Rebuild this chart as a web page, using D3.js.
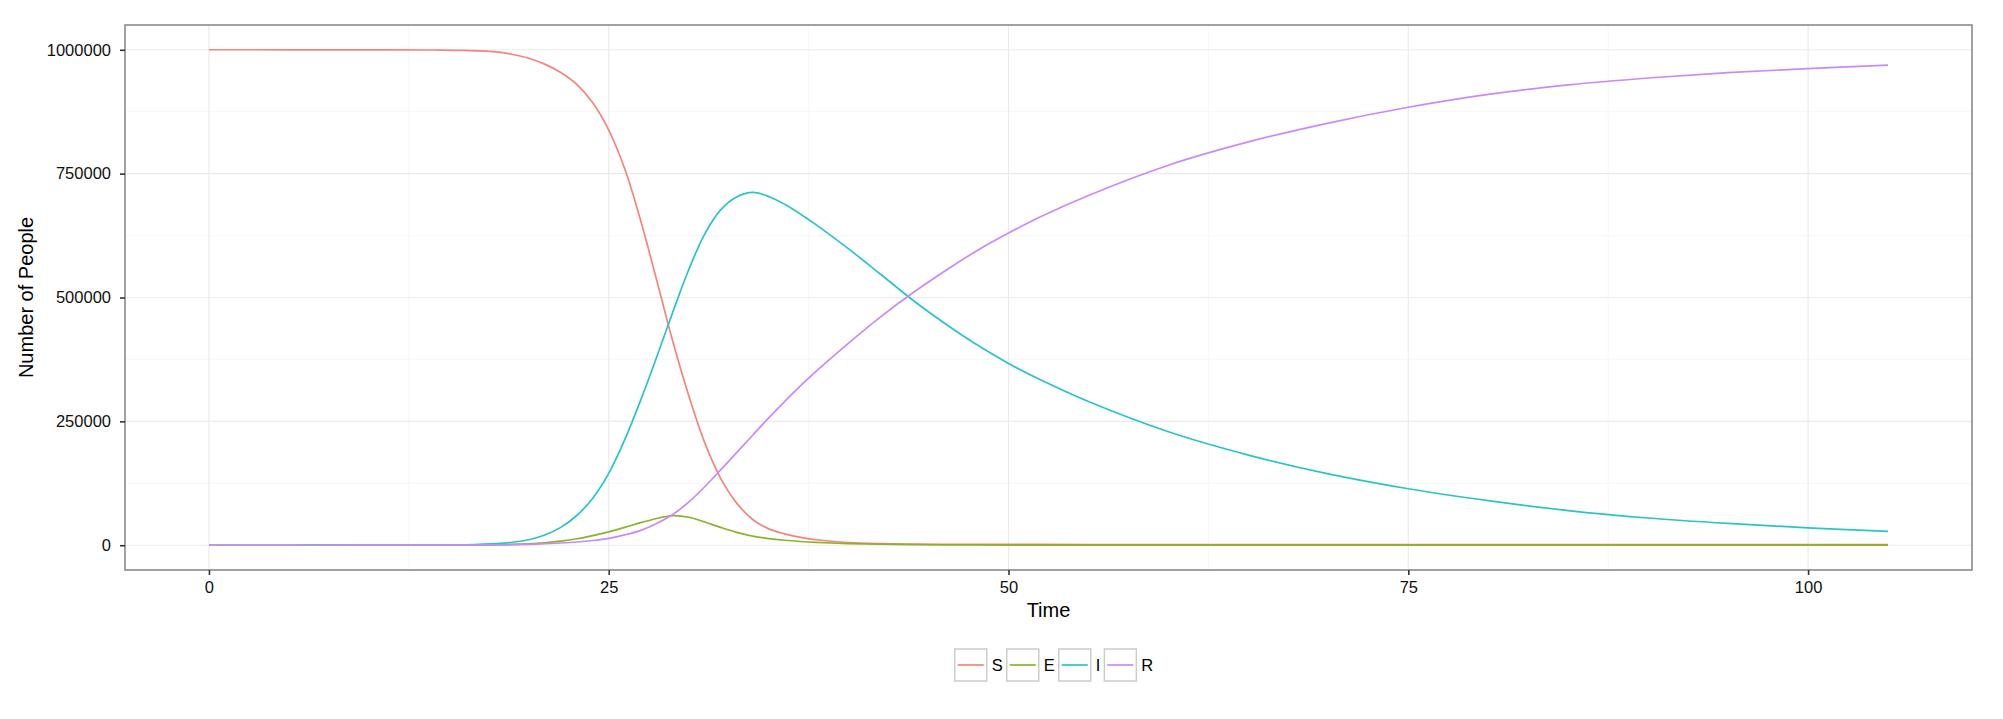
<!DOCTYPE html>
<html>
<head>
<meta charset="utf-8">
<script src="https://cdn.jsdelivr.net/npm/d3@7"></script>
<style>
  body { margin: 0; background: #fff; }
  text { font-family: "Liberation Sans", Arial, Helvetica, sans-serif; }
</style>
</head>
<body>
<div id="chart"></div>
<script>
// SEIR model output
let times = [0, 5, 10, 14, 16, 18, 19, 20, 21, 22, 23, 24, 25, 26, 27, 28, 29, 30, 31, 32, 33, 34, 35, 36, 37, 38,
    40, 42, 44, 46, 48, 50, 52, 55, 60, 65, 70, 75, 80, 85, 90, 95, 100, 105];

let sVals = [1000000, 999990, 999900, 999500, 998700, 995800, 990500, 983000, 971000, 954000, 930000, 893000, 838000,
    760000, 655000, 535000, 412000, 302000, 207000, 135000, 85000, 52000, 33000, 23000, 16000, 11000,
    5500, 3300, 2400, 1900, 1700, 1600, 1550, 1500, 1400, 1400, 1350, 1350, 1300, 1300, 1300, 1300, 1300, 1300];

let eVals = [0, 3, 25, 120, 300, 900, 1600, 2900, 5000, 8300, 13000, 19500, 27000,
    36000, 45500, 54000, 59800, 56500, 47000, 36000, 26000, 18500, 13500, 10000, 7500, 5700,
    3300, 2000, 1200, 800, 550, 380, 300, 200, 120, 80, 60, 50, 40, 30, 25, 20, 15, 12];

let iVals = [1, 5, 60, 300, 900, 3200, 6000, 11000, 20500, 36000, 60000, 95000, 145000,
    213000, 293000, 380000, 470000, 556000, 628000, 677000, 703000, 712000, 704000, 688000, 668000, 646000,
    598000, 547000, 495000, 448000, 405000, 367000, 334000, 290000, 229000, 182000, 144000, 114000, 90000, 70000, 55000, 44000, 35000, 28000];

let rVals = [0, 2, 15, 80, 200, 600, 1100, 1800, 3000, 4500, 6500, 9500, 14000,
    21000, 30000, 44000, 62000, 87000, 118000, 152000, 187000, 222000, 257000, 290000, 322000, 352000,
    408000, 461000, 509000, 553000, 594000, 630000, 663000, 706000, 767000, 814000, 852000, 884000, 910000, 929000, 943000, 954000, 962000, 969000];

let seriesNames = ["S", "E", "I", "R"];
let seriesColors = ["#F3857C", "#8AB22A", "#2AC4C7", "#C98AF8"];
let xTicks = [0, 25, 50, 75, 100];
let xMinor = [12.5, 37.5, 62.5, 87.5];
let yTicks = [0, 250000, 500000, 750000, 1000000];
let yMinor = [125000, 375000, 625000, 875000];

let width = 2003, height = 719;
let panel = {left: 125, right: 1972, top: 25, bottom: 570};

let svg = d3.select("#chart").append("svg")
    .attr("width", width)
    .attr("height", height);

svg.append("rect").attr("width", width).attr("height", height).attr("fill", "#fff");

// ggplot style 5% expansion on both axes
let x = d3.scaleLinear().domain([-5.25, 110.25]).range([panel.left, panel.right]);
let y = d3.scaleLinear().domain([-50000, 1050000]).range([panel.bottom, panel.top]);

let grid = svg.append("g");
grid.selectAll(".xminor").data(xMinor).enter().append("line")
    .attr("x1", d => x(d)).attr("x2", d => x(d))
    .attr("y1", panel.top).attr("y2", panel.bottom)
    .attr("stroke", "#f8f8f8").attr("stroke-width", 1.2);
grid.selectAll(".yminor").data(yMinor).enter().append("line")
    .attr("x1", panel.left).attr("x2", panel.right)
    .attr("y1", d => y(d)).attr("y2", d => y(d))
    .attr("stroke", "#f8f8f8").attr("stroke-width", 1.2);
grid.selectAll(".xmajor").data(xTicks).enter().append("line")
    .attr("x1", d => x(d)).attr("x2", d => x(d))
    .attr("y1", panel.top).attr("y2", panel.bottom)
    .attr("stroke", "#ebebeb").attr("stroke-width", 1.2);
grid.selectAll(".ymajor").data(yTicks).enter().append("line")
    .attr("x1", panel.left).attr("x2", panel.right)
    .attr("y1", d => y(d)).attr("y2", d => y(d))
    .attr("stroke", "#ebebeb").attr("stroke-width", 1.2);

// the lines
let allSeries = [sVals, eVals, iVals, rVals];
let line = d3.line()
    .x((d, i) => x(times[i]))
    .y(d => y(d))
    .curve(d3.curveCatmullRom.alpha(0.5));

svg.append("g").selectAll("path").data(allSeries).enter().append("path")
    .attr("d", d => line(d))
    .attr("fill", "none")
    .attr("stroke", (d, i) => seriesColors[i])
    .attr("stroke-width", 1.7);

// panel border
svg.append("rect")
    .attr("x", panel.left).attr("y", panel.top)
    .attr("width", panel.right - panel.left)
    .attr("height", panel.bottom - panel.top)
    .attr("fill", "none")
    .attr("stroke", "#8a8a8a")
    .attr("stroke-width", 1.6);

// axes
let xAxis = svg.append("g")
    .attr("transform", "translate(0," + panel.bottom + ")")
    .call(d3.axisBottom(x).tickValues(xTicks).tickSize(5).tickPadding(6).tickFormat(d3.format("d")));
let yAxis = svg.append("g")
    .attr("transform", "translate(" + panel.left + ",0)")
    .call(d3.axisLeft(y).tickValues(yTicks).tickSize(5).tickPadding(9).tickFormat(d3.format("d")));

[xAxis, yAxis].forEach(function (ax) {
    ax.select(".domain").remove();
    ax.selectAll(".tick line").attr("stroke", "#333").attr("stroke-width", 1.6);
    ax.selectAll(".tick text")
        .attr("fill", "#111")
        .style("font-size", "16.5px")
        .style("font-family", "'Liberation Sans', Arial, sans-serif");
});

// axis titles
svg.append("text")
    .attr("x", (panel.left + panel.right) / 2)
    .attr("y", 617)
    .attr("text-anchor", "middle")
    .style("font-size", "20px")
    .text("Time");

svg.append("text")
    .attr("transform", "translate(33," + ((panel.top + panel.bottom) / 2) + ") rotate(-90)")
    .attr("text-anchor", "middle")
    .style("font-size", "20px")
    .text("Number of People");

// legend at the bottom
let keySize = 32;
let legend = svg.append("g");
let items = legend.selectAll("g").data(seriesNames).enter().append("g");

items.append("rect")
    .attr("width", keySize).attr("height", keySize)
    .attr("fill", "#fff")
    .attr("stroke", "#cccccc")
    .attr("stroke-width", 1.5);

items.append("line")
    .attr("x1", 3).attr("x2", keySize - 3)
    .attr("y1", keySize / 2).attr("y2", keySize / 2)
    .attr("stroke", (d, i) => seriesColors[i])
    .attr("stroke-width", 1.7);

items.append("text")
    .attr("x", keySize + 5)
    .attr("y", keySize / 2)
    .attr("dy", "0.36em")
    .style("font-size", "16.5px")
    .text(d => d);

// place the keys one after another, centred under the panel
let offsets = [];
let cursor = 0;
items.each(function () {
    let w = d3.select(this).select("text").node().getComputedTextLength();
    offsets.push(cursor);
    cursor += keySize + 5 + w + 4;
});
let totalW = cursor - 4;
let startX = 1054 - totalW / 2;
items.attr("transform", (d, i) => "translate(" + (startX + offsets[i]) + ",649)");
</script>
</body>
</html>
